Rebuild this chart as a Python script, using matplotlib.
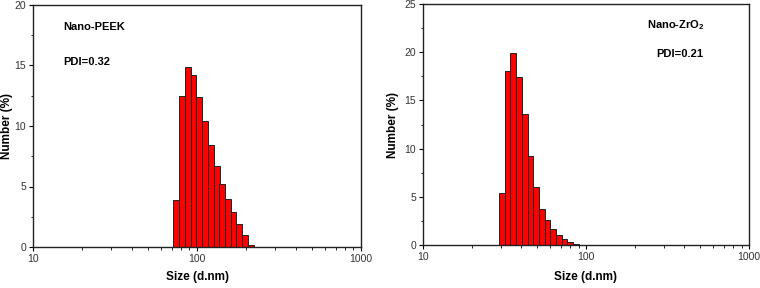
import numpy as np
import matplotlib
matplotlib.use("Agg")
from matplotlib import pyplot as plt
from matplotlib.ticker import MultipleLocator, LogLocator, NullFormatter

plt.rcParams['font.family'] = ['Liberation Sans', 'DejaVu Sans']
plt.rcParams['mathtext.fontset'] = 'custom'
plt.rcParams['mathtext.bf'] = 'Liberation Sans:bold'
plt.rcParams['mathtext.rm'] = 'Liberation Sans'

# Nano-PEEK size distribution (bin centres in nm, number %)
peek_size = [74.5, 80.8, 87.7, 95.2, 103.3, 112.1, 121.7, 131.8,
             142.7, 154.5, 167.2, 181.0, 196.6, 213.3]
peek_number = [3.85, 12.5, 14.86, 14.22, 12.43, 10.4, 8.39, 6.68,
               5.2, 3.96, 2.86, 1.9, 0.98, 0.14]

# Nano-ZrO2 size distribution
zro2_size = [30.5, 33.1, 35.8, 38.8, 42.1, 45.6, 49.4, 53.6,
             58.0, 62.9, 68.2, 73.9, 80.1, 86.8]
zro2_number = [5.39, 18.06, 19.9, 17.44, 13.64, 9.22, 6.01, 3.78,
               2.55, 1.62, 1.05, 0.63, 0.28, 0.1]

tick_labels_x = ["10", "100", "1000"]


def log_bars(ax, centres, heights):
    """在对数坐标上画等宽的柱子"""
    c = np.array(centres)
    step = np.mean(np.diff(np.log10(c)))
    left = c / 10 ** (step / 2)
    right = c * 10 ** (step / 2)
    ax.bar(left, heights, width=right - left, align='edge',
           color='#ff0000', edgecolor='#222222', linewidth=0.7)


def style_axes(ax, ymax, ystep, ylab_x, xlab_y):
    ax.set_xscale('log')
    ax.set_xlim(10, 1000)
    ax.set_ylim(0, ymax)
    ax.yaxis.set_major_locator(MultipleLocator(ystep))
    ax.yaxis.set_minor_locator(MultipleLocator(ystep / 2))
    ax.xaxis.set_minor_locator(LogLocator(base=10, subs=np.arange(2, 10), numticks=20))
    ax.xaxis.set_minor_formatter(NullFormatter())
    ax.set_xticks([10, 100, 1000])
    ax.set_xticklabels(tick_labels_x)
    ax.tick_params(which='major', direction='out', length=3, width=0.8,
                   labelsize=7.5, labelcolor='#333333', pad=2)
    ax.tick_params(which='minor', direction='out', length=1.8, width=0.6)
    for s in ax.spines.values():
        s.set_linewidth(1.0)
        s.set_color('#222222')
    ax.set_xlabel("Size (d.nm)", fontsize=8.5, fontweight='bold')
    ax.set_ylabel("Number (%)", fontsize=8.5, fontweight='bold')
    ax.yaxis.set_label_coords(ylab_x, 0.5)
    ax.xaxis.set_label_coords(0.5, xlab_y)
    ax.xaxis.label.set_va('center')
    ax.yaxis.label.set_va('center')


fig = plt.figure(figsize=(7.6, 2.88), dpi=100)

ax1 = fig.add_axes([33 / 760, 41 / 288, 328 / 760, 242 / 288])
log_bars(ax1, peek_size, peek_number)
style_axes(ax1, 20, 5, -0.079, -0.124)

ax2 = fig.add_axes([423 / 760, 43 / 288, 326 / 760, 241 / 288])
log_bars(ax2, zro2_size, zro2_number)
style_axes(ax2, 25, 5, -0.092, -0.133)


# 文字位置用像素坐标(原点在左上角)
def px_text(x, y, s):
    fig.text(x / 760, 1 - y / 288, s, fontsize=8, fontweight='bold',
             va='center')


px_text(63, 27, "Nano-PEEK")
px_text(63, 62, "PDI=0.32")
px_text(647, 25, "Nano-ZrO$_\\mathbf{2}$")
px_text(656, 54, "PDI=0.21")

fig.savefig("out.png", dpi=100)
